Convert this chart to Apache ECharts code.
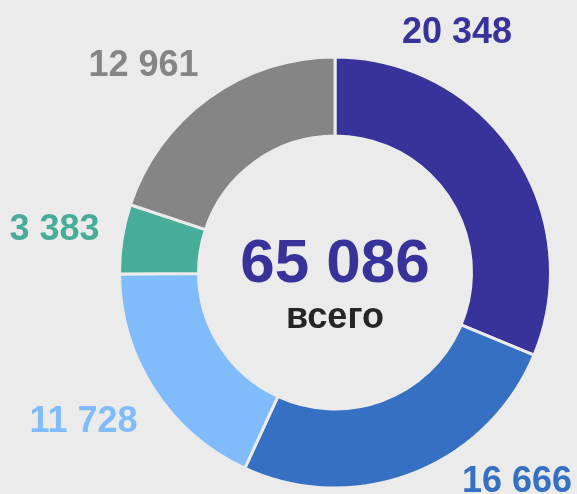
<!DOCTYPE html>
<html>
<head>
<meta charset="utf-8">
<style>
  html, body { margin: 0; padding: 0; background: #ebebeb; }
  #chart { width: 577px; height: 494px; }
</style>
<script src="https://cdn.jsdelivr.net/npm/echarts@6/dist/echarts.min.js"></script>
</head>
<body>
<div id="chart"></div>
<script>
  // данные
  var categories = ['a', 'b', 'c', 'd', 'e'];
  var values = [20348, 16666, 11728, 3383, 12961];
  var colors = ['#37339a', '#3670c2', '#80bbfb', '#48ad98', '#858585'];
  var totalLabel = 'всего';

  // где стоят подписи (x, y, выравнивание)
  var labelSpots = [
    [402, 33, 'left'],
    [462, 482, 'left'],
    [137.5, 422, 'right'],
    [99.5, 230, 'right'],
    [198.5, 66, 'right']
  ];

  function fmt(n) {
    return String(n).replace(/\B(?=(\d{3})+(?!\d))/g, ' ');
  }

  var total = values.reduce(function (s, v) { return s + v; }, 0);

  var chart = echarts.init(document.getElementById('chart'));
  chart.setOption({
    backgroundColor: '#ebebeb',
    animation: false,
    graphic: [
      {
        type: 'text',
        x: 335,
        y: 265,
        style: {
          text: fmt(total),
          fill: '#37339a',
          font: 'bold 62px "Liberation Sans", Arial, sans-serif',
          textAlign: 'center',
          textVerticalAlign: 'middle'
        }
      },
      {
        type: 'text',
        x: 335,
        y: 318,
        style: {
          text: totalLabel,
          fill: '#262626',
          font: 'bold 36px "Liberation Sans", Arial, sans-serif',
          textAlign: 'center',
          textVerticalAlign: 'middle'
        }
      }
    ],
    series: [
      {
        type: 'pie',
        center: [335, 272.5],
        radius: [136.5, 215.5],
        startAngle: 90,
        clockwise: true,
        avoidLabelOverlap: false,
        itemStyle: {
          borderColor: '#ebebeb',
          borderWidth: 3
        },
        label: {
          show: true,
          position: 'outside',
          formatter: function (p) { return fmt(p.value); },
          fontFamily: '"Liberation Sans", Arial, sans-serif',
          fontWeight: 'bold',
          fontSize: 36,
          color: 'inherit'
        },
        labelLine: { show: false },
        labelLayout: function (p) {
          var s = labelSpots[p.dataIndex];
          return { x: s[0], y: s[1], align: s[2], verticalAlign: 'middle' };
        },
        emphasis: { disabled: true },
        data: categories.map(function (c, i) {
          return { name: c, value: values[i], itemStyle: { color: colors[i] }, label: { color: colors[i] } };
        })
      }
    ]
  });
</script>
</body>
</html>
